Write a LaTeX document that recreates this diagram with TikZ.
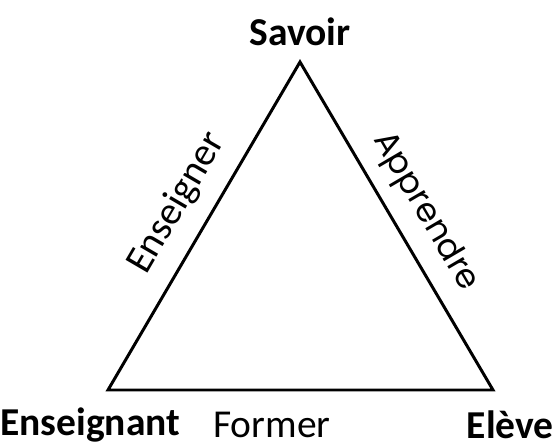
\documentclass[tikz,border=0pt]{standalone}
\usepackage{fontspec}
\setmainfont{Carlito}
\newfontfamily\geofont{Poppins}
\usetikzlibrary{positioning}
\tikzset{
  pole/.style={font=\fontsize{22.5}{26}\selectfont\bfseries, inner sep=0pt},
  act/.style={font=\fontsize{22.5}{26}\selectfont, inner sep=0pt},
  side/.style={line width=1.7pt, black, line join=miter},
}
\begin{document}
\begin{tikzpicture}[x=0.02cm, y=-0.02cm]
        \useasboundingbox (0,0) rectangle (555,446);
        % corners of the triangle
        \coordinate (top) at (300,62);
        \coordinate (left) at (108,390);
        \coordinate (right) at (493,390);
        \draw[side] (top) -- (right) -- (left) -- cycle;
        % the three poles
        \node[pole] (savoir) at (300,32) {Savoir};
        \node[pole, anchor=west] (ens) at (0,425) {Enseignant};
        \node[pole, anchor=east] (eleve) at (554,425) {Elève};
        % the three processes
        \node[act] (former) at (272,425) {Former};
        \node[act, rotate=59.7] (enseigner) at (177,203) {Enseigner};
        \node[act, rotate=-59.6] (apprendre) at (425,212) {\geofont\fontsize{19}{22}\selectfont Apprendre};
      \end{tikzpicture}
\end{document}
